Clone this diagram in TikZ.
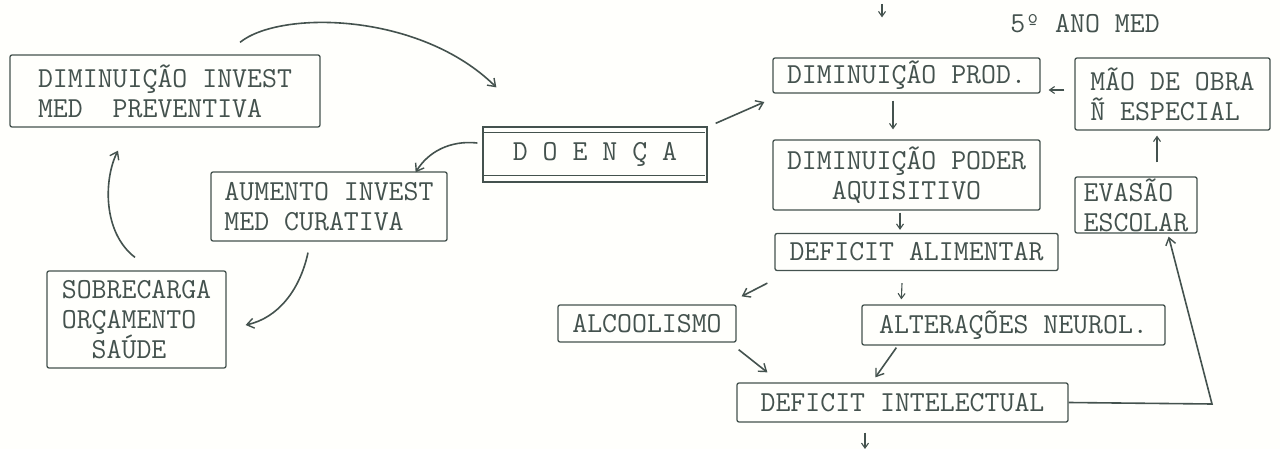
\documentclass[tikz,border=0pt]{standalone}
\usetikzlibrary{arrows.meta,calc}
\definecolor{ink}{HTML}{44524E}
\definecolor{paper}{HTML}{FFFFFC}
\begin{document}
\begin{tikzpicture}[x=1pt,y=-1pt,
  every node/.style={font=\ttfamily\fontsize{29}{30}\selectfont, text=ink},
  box/.style={draw=ink, line width=1.3pt, rounded corners=2pt, inner sep=0pt},
  conn/.style={draw=ink, line width=1.6pt, -{Straight Barb[length=7pt,width=10pt,line width=1.4pt]}},
  small/.style={draw=ink, line width=1.1pt, -{Straight Barb[length=5pt,width=7pt,line width=1.1pt]}},
  plain/.style={draw=ink, line width=1.6pt}]
\fill[paper] (0,0) rectangle (1280,449);
\useasboundingbox (0,0) rectangle (1280,449);

% left cycle
\node[box, minimum width=310pt, minimum height=72pt, align=left] (dinv) at (165,91)
  {DIMINUIÇÃO INVEST\\MED\ \ PREVENTIVA};
\node[box, minimum width=236pt, minimum height=69pt, align=left] (aum) at (329,206.5)
  {AUMENTO INVEST\\MED CURATIVA};
\node[box, minimum width=179pt, minimum height=97pt, align=left] (sob) at (136.5,319.5)
  {SOBRECARGA\\ORÇAMENTO\\\ \ SAÚDE};
\node[box, rounded corners=0pt, minimum width=224pt, minimum height=55pt] (doenca) at (595,154.5)
  {D O E N Ç A};
\draw[ink, line width=1.3pt] ([yshift=-6pt]doenca.north west) -- ([xshift=-3pt,yshift=-6pt]doenca.north east);
\draw[ink, line width=1.3pt] ([yshift=7pt]doenca.south west) -- ([xshift=-3pt,yshift=7pt]doenca.south east);

% right chain
\node (ano) at (1085,24) {5º ANO MED};
\node[box, minimum width=267pt, minimum height=35pt] (dprod) at (906.5,75.5) {DIMINUIÇÃO PROD.};
\node[box, minimum width=195pt, minimum height=72pt, align=left] (mao) at (1172.5,94)
  {MÃO DE OBRA\\Ñ ESPECIAL};
\node[box, minimum width=267pt, minimum height=70pt, align=center] (dpoder) at (906.5,175)
  {DIMINUIÇÃO PODER\\AQUISITIVO};
\node[box, minimum width=283pt, minimum height=37pt] (dalim) at (916.5,252) {DEFICIT ALIMENTAR};
\node[box, minimum width=122pt, minimum height=56pt, align=left] (evasao) at (1136,205)
  {EVASÃO\\ESCOLAR};
\node[box, minimum width=178pt, minimum height=37pt] (alcool) at (647,323.5) {ALCOOLISMO};
\node[box, minimum width=303pt, minimum height=40pt] (alter) at (1013.5,325) {ALTERAÇÕES NEUROL.};
\node[box, minimum width=331pt, minimum height=39pt] (di) at (902.5,402.5) {DEFICIT INTELECTUAL};

\coordinate (topin) at (882,4);
\coordinate (bend) at (1212,404);
\coordinate (bottomout) at (865,449);

% left cycle connectors
\draw[conn] ([xshift=75pt,yshift=12pt]dinv.north) .. controls (280,10) and (420,12) .. ([xshift=14pt,yshift=39pt]doenca.north west);
\draw[conn] ([xshift=-5pt,yshift=11.5pt]doenca.west) .. controls (450,140) and (428,152) .. ([xshift=-32pt,yshift=-1pt]aum.north east);
\draw[conn] ([xshift=-21pt,yshift=-11pt]aum.south) .. controls (300,290) and (278,318) .. ([xshift=19pt,yshift=-5.5pt]sob.east);
\draw[conn] ([xshift=-1.5pt,yshift=13pt]sob.north) .. controls (102,232) and (104,178) .. ([xshift=-47pt,yshift=-23pt]dinv.south);

% right connectors
\draw[conn] ([xshift=8pt,yshift=3pt]doenca.north east) -- ([xshift=-8pt,yshift=-26.5pt]dprod.west);
\draw[small] (topin) -- ([xshift=-24.5pt,yshift=40pt]dprod.north);
\draw[small] ([xshift=-10pt,yshift=4pt]mao.west) -- ([xshift=8pt,yshift=-14.5pt]dprod.east);
\draw[small] ([xshift=-13.5pt,yshift=-7pt]dprod.south) -- ([xshift=-13.5pt,yshift=10pt]dpoder.north);
\draw[small] ([xshift=-6.5pt,yshift=-2pt]dpoder.south) -- ([xshift=-16.5pt,yshift=3pt]dalim.north);
\draw[small] ([xshift=21pt,yshift=14pt]evasao.north) -- ([xshift=-15.5pt,yshift=-5pt]mao.south);
\draw[conn] ([xshift=-7pt,yshift=-12pt]dalim.south west) -- ([xshift=5pt,yshift=8pt]alcool.north east);
\draw[small] ([xshift=-14.5pt,yshift=-12pt]dalim.south) -- ([xshift=40pt,yshift=5pt]alter.north west);
\draw[conn] ([xshift=2pt,yshift=-7pt]alcool.south east) -- ([xshift=31pt,yshift=10pt]di.north west);
\draw[conn] ([xshift=35pt,yshift=-2pt]alter.south west) -- ([xshift=139pt,yshift=5pt]di.north west);
\draw[conn] (di.east) -- (bend) -- ([xshift=-29pt,yshift=-3pt]evasao.south east);
\draw[small] ([xshift=-37.5pt,yshift=-10pt]di.south) -- (bottomout);
\end{tikzpicture}
\end{document}
